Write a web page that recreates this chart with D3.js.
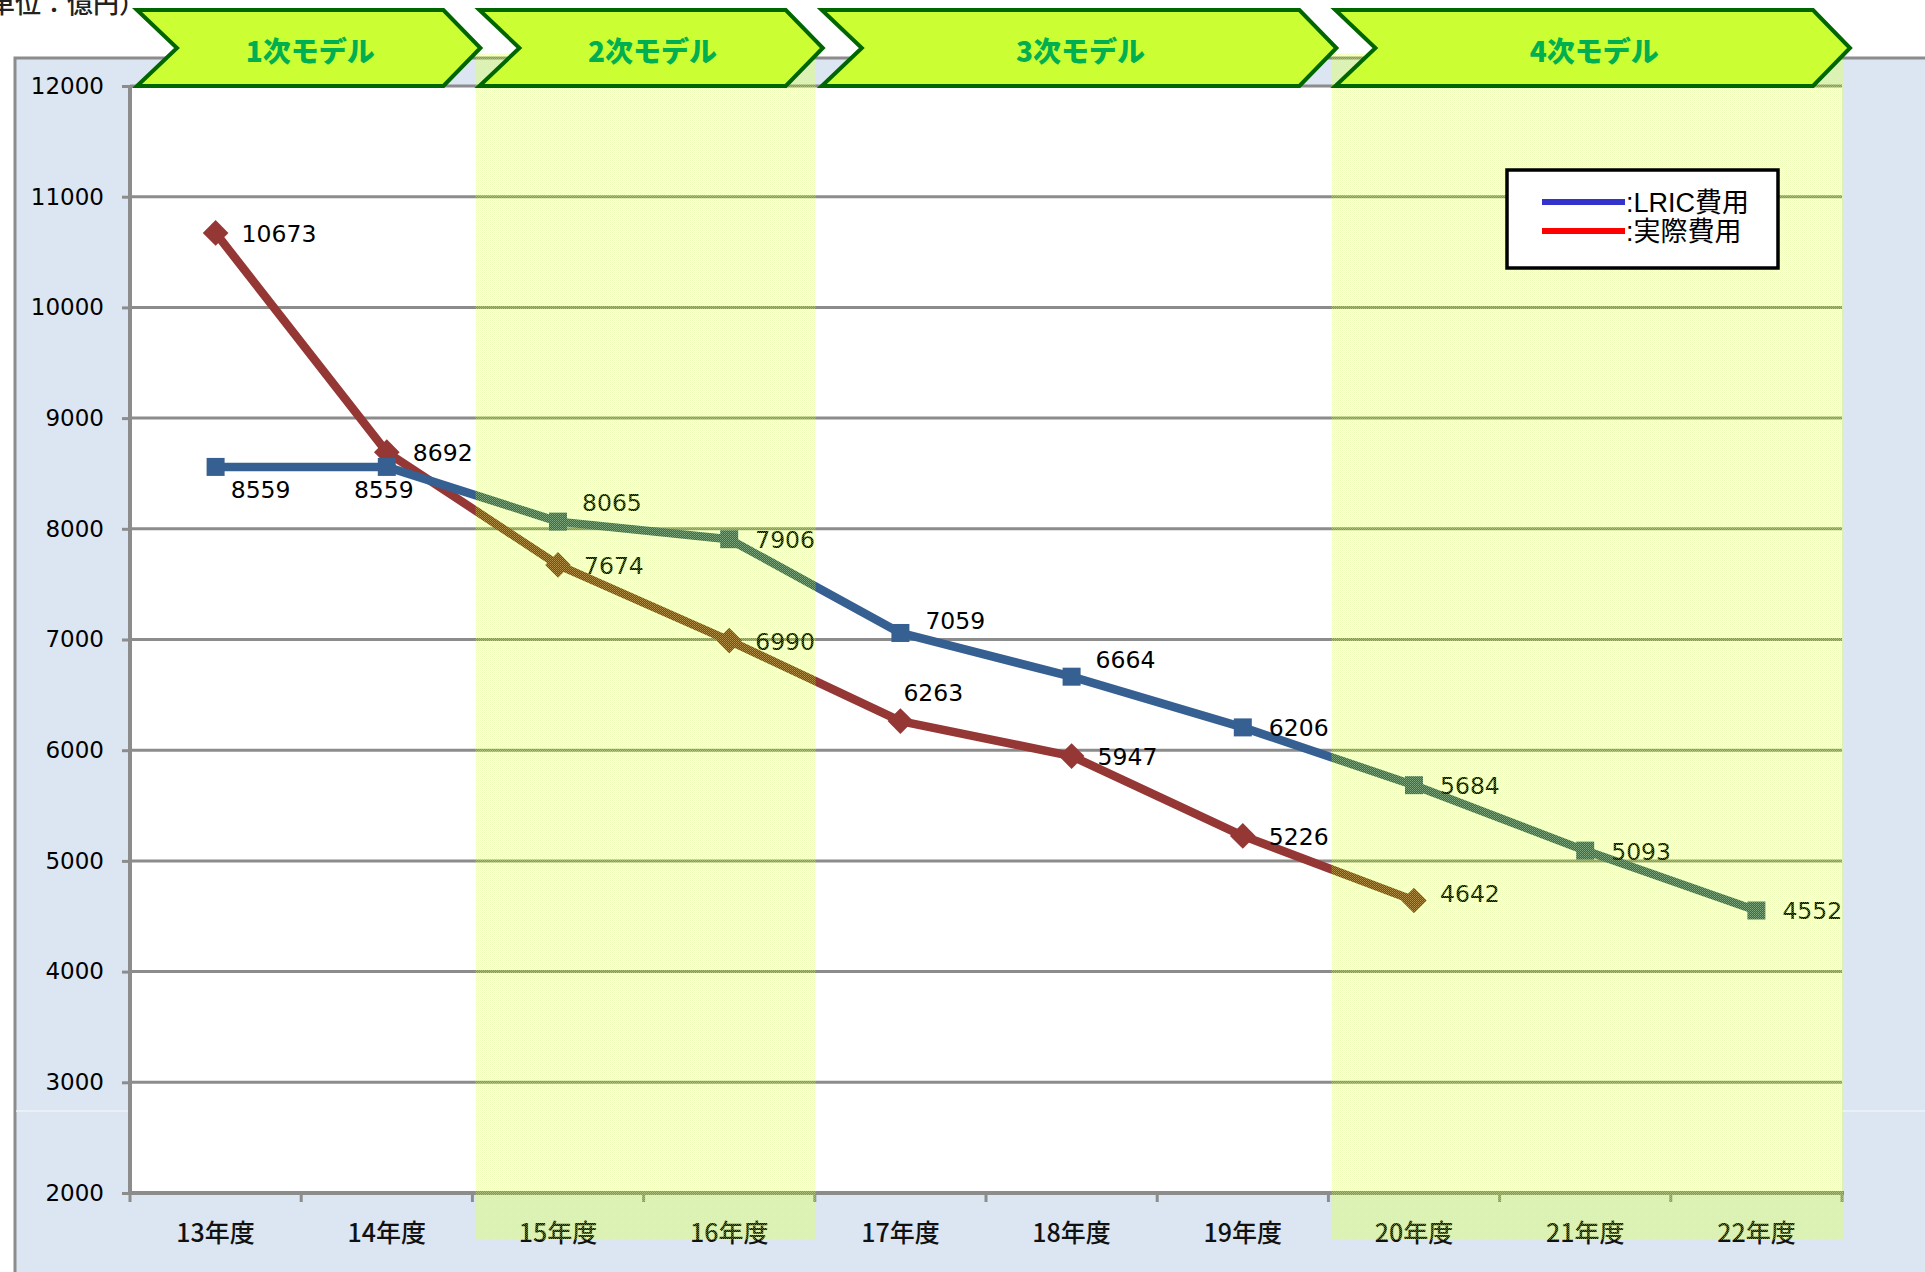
<!DOCTYPE html>
<html>
<head>
<meta charset="utf-8">
<script src="https://cdn.jsdelivr.net/npm/d3@7"></script>
<style>
  html, body { margin: 0; padding: 0; background: #ffffff; }
  svg { display: block; }
</style>
</head>
<body>
<svg id="chart" width="1925" height="1272"></svg>
<script>
// ---------- data ----------
const categories = ["13年度","14年度","15年度","16年度","17年度","18年度","19年度","20年度","21年度","22年度"];
const lricValues   = [8559, 8559, 8065, 7906, 7059, 6664, 6206, 5684, 5093, 4552];
const actualValues = [10673, 8692, 7674, 6990, 6263, 5947, 5226, 4642];
const yTicks = [2000, 3000, 4000, 5000, 6000, 7000, 8000, 9000, 10000, 11000, 12000];
const modelNames  = ["1次モデル", "2次モデル", "3次モデル", "4次モデル"];
const modelStarts = ["13年度", "15年度", "17年度", "20年度"];
const modelEnds   = ["14年度", "16年度", "19年度", "22年度"];
const modelShaded = [false, true, false, true];
const seriesNames = [":LRIC費用", ":実際費用"];
const unitLabel = "（単位：億円）";
// label placement keywords (style)
const lricLabelPos   = ["belowR", "below", "aboveR", "right", "aboveR2", "aboveR3", "right", "right", "right", "right"];
const actualLabelPos = ["right", "right", "right", "right", "above", "right", "right", "rightUp"];

// ---------- layout ----------
const svg = d3.select("#chart");
const plotL = 130, plotR = 1842, plotT = 86, plotB = 1193;
const x = d3.scaleBand().domain(categories).range([plotL, plotR]).padding(0);
const bw = x.bandwidth();
const cx = c => x(c) + bw / 2;
const y = d3.scaleLinear().domain([2000, 12000]).range([plotB, plotT]);

const gridColor = "#8C8C8C";
const blue = "#376092", red = "#953735";

// pattern for shading
const defs = svg.append("defs");
const pat = defs.append("pattern").attr("id", "shade")
  .attr("patternUnits", "userSpaceOnUse").attr("width", 2).attr("height", 2);
pat.append("rect").attr("x", 0).attr("y", 0).attr("width", 1).attr("height", 1)
  .attr("fill", "#D8FF66").attr("fill-opacity", 0.45).attr("shape-rendering", "crispEdges");
pat.append("rect").attr("x", 1).attr("y", 1).attr("width", 1).attr("height", 1)
  .attr("fill", "#E4FF8C").attr("fill-opacity", 0.3).attr("shape-rendering", "crispEdges");

// chart area background
svg.append("rect").attr("x", 15).attr("y", 58).attr("width", 1925).attr("height", 1300)
  .attr("fill", "#DCE6F2").attr("stroke", "#8C8C8C").attr("stroke-width", 3);
svg.append("line").attr("x1", 16).attr("x2", 1925).attr("y1", 1111).attr("y2", 1111)
  .attr("stroke", "#EEF3F9").attr("stroke-width", 1.5);

// plot area
svg.append("rect").attr("x", plotL).attr("y", plotT).attr("width", plotR - plotL).attr("height", plotB - plotT)
  .attr("fill", "#ffffff");

// gridlines
svg.append("g").selectAll("line").data(yTicks.filter(t => t !== 2000)).join("line")
  .attr("x1", plotL).attr("x2", plotR)
  .attr("y1", d => y(d)).attr("y2", d => y(d))
  .attr("stroke", gridColor).attr("stroke-width", 3);

// y axis
const yAxis = svg.append("g").attr("transform", `translate(${plotL},0)`)
  .call(d3.axisLeft(y).tickValues(yTicks).tickSize(8).tickPadding(18).tickFormat(d3.format("d")));
yAxis.select(".domain").attr("stroke", gridColor).attr("stroke-width", 4)
  .attr("d", `M0,${plotT}V${plotB}`);
yAxis.selectAll(".tick line").attr("stroke", gridColor).attr("stroke-width", 3);
yAxis.selectAll(".tick text").attr("font-family", "DejaVu Sans").attr("font-size", 23).attr("fill", "#000");

// x axis
const xAxis = svg.append("g").attr("transform", `translate(0,${plotB})`)
  .call(d3.axisBottom(x).tickSize(0).tickPadding(31));
xAxis.select(".domain").attr("stroke", gridColor).attr("stroke-width", 4)
  .attr("d", `M${plotL - 2},0H${plotR + 2}`);
xAxis.selectAll(".tick text").attr("font-family", "'Noto Sans CJK JP'").attr("font-size", 25)
  .attr("font-weight", 500).attr("fill", "#111");
const bounds = categories.map(c => x(c)).concat([plotR]);
xAxis.selectAll("line.bt").data(bounds).join("line").attr("class", "bt")
  .attr("x1", d => d).attr("x2", d => d).attr("y1", 0).attr("y2", 9)
  .attr("stroke", gridColor).attr("stroke-width", 3);

// lines
const lineGen = d3.line().x((d, i) => cx(categories[i])).y(d => y(d)).curve(d3.curveLinear);
svg.append("path").datum(actualValues).attr("d", lineGen)
  .attr("fill", "none").attr("stroke", red).attr("stroke-width", 8.5).attr("stroke-linejoin", "round");
svg.append("path").datum(lricValues).attr("d", lineGen)
  .attr("fill", "none").attr("stroke", blue).attr("stroke-width", 8.5).attr("stroke-linejoin", "round");

// markers
svg.append("g").selectAll("path").data(actualValues).join("path")
  .attr("d", d3.symbol().type(d3.symbolDiamond2).size(420))
  .attr("transform", (d, i) => `translate(${cx(categories[i])},${y(d)})`)
  .attr("fill", red);
svg.append("g").selectAll("rect").data(lricValues).join("rect")
  .attr("x", (d, i) => cx(categories[i]) - 9).attr("y", d => y(d) - 9)
  .attr("width", 18).attr("height", 18).attr("fill", blue);

// data labels
const place = {
  right:   {dx: 26, dy: 9,   anchor: "start"},
  rightUp: {dx: 26, dy: 1,   anchor: "start"},
  below:   {dx: -3, dy: 31,  anchor: "middle"},
  belowR:  {dx: 45, dy: 31,  anchor: "middle"},
  aboveR:  {dx: 24, dy: -11, anchor: "start"},
  aboveR2: {dx: 25, dy: -4,  anchor: "start"},
  aboveR3: {dx: 24, dy: -9,  anchor: "start"},
  above:   {dx: 3,  dy: -20, anchor: "start"}
};
function drawLabels(values, pos) {
  svg.append("g").selectAll("text").data(values).join("text")
    .attr("x", (d, i) => cx(categories[i]) + place[pos[i]].dx)
    .attr("y", (d, i) => y(d) + place[pos[i]].dy)
    .attr("text-anchor", (d, i) => place[pos[i]].anchor)
    .attr("font-family", "DejaVu Sans").attr("font-size", 23.5).attr("fill", "#000")
    .text(d => d);
}
drawLabels(lricValues, lricLabelPos);
drawLabels(actualValues, actualLabelPos);

// shading overlay
svg.append("g").selectAll("rect").data(modelNames.filter((m, i) => modelShaded[i])).join("rect")
  .attr("x", m => x(modelStarts[modelNames.indexOf(m)]) + 3)
  .attr("y", 53)
  .attr("width", m => x(modelEnds[modelNames.indexOf(m)]) + bw + 1 - x(modelStarts[modelNames.indexOf(m)]) - 3)
  .attr("height", 1240 - 53)
  .attr("fill", "url(#shade)");

// legend
const lg = svg.append("g");
lg.append("rect").attr("x", 1507).attr("y", 170).attr("width", 271).attr("height", 98)
  .attr("fill", "#ffffff").attr("stroke", "#000").attr("stroke-width", 3.5);
const legendColors = ["#3333CC", "#FF0000"];
seriesNames.forEach((s, i) => {
  const ly = 202 + i * 29;
  lg.append("line").attr("x1", 1542).attr("x2", 1625).attr("y1", ly).attr("y2", ly)
    .attr("stroke", legendColors[i]).attr("stroke-width", 6);
  lg.append("text").attr("x", 1626).attr("y", ly + 10)
    .attr("font-family", "'Liberation Sans','Noto Sans CJK JP'").attr("font-size", 27).attr("fill", "#000")
    .text(s);
});

// chevrons
const chev = svg.append("g");
modelNames.forEach((m, i) => {
  const x0 = x(modelStarts[i]);
  const x1 = x(modelEnds[i]) + bw;
  const L = x0 + 7, T = x1 + 8, N = L + 40, S = T - 37;
  const top = 10, bot = 86, mid = 48;
  chev.append("polygon")
    .attr("points", [[L, top], [S, top], [T, mid], [S, bot], [L, bot], [N, mid]].map(p => p.join(",")).join(" "))
    .attr("fill", "#CCFF33").attr("stroke", "#006600").attr("stroke-width", 4).attr("stroke-linejoin", "miter");
  chev.append("text").attr("x", (N + S) / 2).attr("y", mid + 2)
    .attr("text-anchor", "middle").attr("dominant-baseline", "central")
    .attr("font-family", "'Noto Sans CJK JP'").attr("font-weight", 900).attr("font-size", 28)
    .attr("fill", "#00B050").text(m);
});

// unit label (cut off at top-left like the source)
svg.append("text").attr("x", -37).attr("y", 13)
  .attr("font-family", "'Noto Sans CJK JP'").attr("font-size", 26).attr("font-weight", 500).attr("fill", "#222")
  .text(unitLabel);
</script>
</body>
</html>
